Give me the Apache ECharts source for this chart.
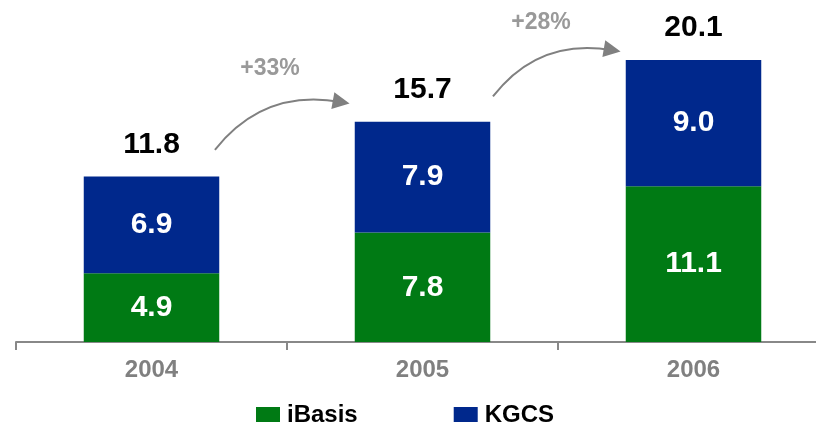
<!DOCTYPE html>
<html><head><meta charset="utf-8">
<script src="https://cdn.jsdelivr.net/npm/echarts@6/dist/echarts.min.js"></script>
<style>html,body{margin:0;padding:0;background:#fff}#c{width:816px;height:422px}</style>
</head><body><div id="c"></div>
<script>
var categories = ['2004', '2005', '2006'];
var iBasis = [4.9, 7.8, 11.1];
var KGCS = [6.9, 7.9, 9.0];
var totals = [11.8, 15.7, 20.1];
var growthLabels = ['+33%', '+28%'];
// annotation arrows in data space (x on 0..3 band axis, y in value units)
var arrowCoords = [
  [[0.734, 13.7], [1.20, 17.1]],
  [[1.76, 17.5], [2.20, 20.8]]
];
var growthLabelPos = [[0.937, 19.46], [1.937, 22.77]];

var chart = echarts.init(document.getElementById('c'));
var font = 'Arial, "Liberation Sans", sans-serif';
chart.setOption({
  animation: false,
  textStyle: { fontFamily: font },
  grid: { left: 16, width: 813, top: 12.3, height: 329.7, containLabel: false, outerBoundsMode: 'none' },
  legend: {
    top: 398, left: 251, itemWidth: 24, itemHeight: 16, itemGap: 96,
    icon: 'rect',
    data: ['iBasis', 'KGCS'],
    textStyle: { fontSize: 24, fontWeight: 'bold', color: '#000', fontFamily: font, padding: [0,0,0,2] }
  },
  xAxis: [{
    type: 'category', data: categories,
    axisLine: { lineStyle: { color: '#888', width: 2 } },
    axisTick: { show: true, length: 8, lineStyle: { color: '#888', width: 2 } },
    axisLabel: { fontSize: 24, fontWeight: 'bold', color: '#808080', margin: 16, fontFamily: font }
  }, {
    type: 'value', min: 0, max: 3, show: false
  }],
  yAxis: { type: 'value', min: 0, max: 23.5, show: false, splitLine: { show: false } },
  series: [{
    name: 'iBasis', type: 'bar', stack: 's', barWidth: '50%', data: iBasis,
    itemStyle: { color: '#007A14' },
    label: { show: true, position: 'inside', color: '#fff', fontSize: 30, fontWeight: 'bold', fontFamily: font,
      formatter: function(p){ return p.value.toFixed(1); } }
  }, {
    name: 'KGCS', type: 'bar', stack: 's', barWidth: '50%', data: KGCS,
    itemStyle: { color: '#00288C' },
    label: { show: true, position: 'inside', color: '#fff', fontSize: 30, fontWeight: 'bold', fontFamily: font,
      formatter: function(p){ return p.value.toFixed(1); } }
  }, {
    name: 'total', type: 'bar', stack: 's', barWidth: '50%', data: totals.map(function(){ return 0; }),
    itemStyle: { color: 'transparent' },
    label: { show: true, position: 'top', distance: 17, color: '#000', fontSize: 30, fontWeight: 'bold', fontFamily: font,
      formatter: function(p){ return totals[p.dataIndex].toFixed(1); } }
  }, {
    type: 'lines', coordinateSystem: 'cartesian2d', xAxisIndex: 1, clip: false,
    symbol: ['none', 'triangle'], symbolSize: [0, 17],
    lineStyle: { color: '#808080', width: 2, curveness: 0.3, opacity: 1 },
    data: arrowCoords.map(function(c){ return { coords: c }; })
  }, {
    type: 'scatter', xAxisIndex: 1, symbolSize: 0, clip: false,
    data: growthLabelPos.map(function(p, i){ return { value: p, name: growthLabels[i] }; }),
    label: { show: true, position: 'inside', color: '#808080', fontSize: 23, fontWeight: 'bold', fontFamily: font,
      formatter: function(p){ return p.name; } }
  }]
});
</script></body></html>
